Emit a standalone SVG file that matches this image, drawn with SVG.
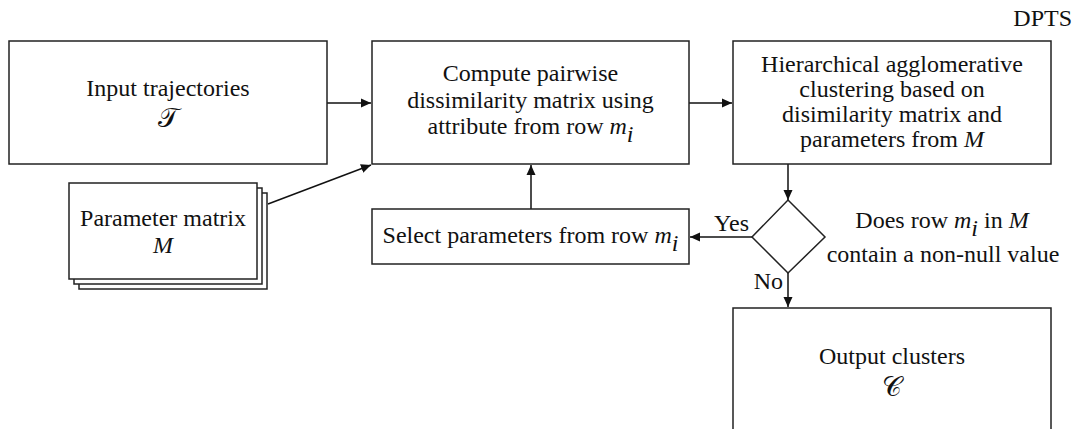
<svg xmlns="http://www.w3.org/2000/svg" width="1077" height="429" viewBox="0 0 1077 429">
  <style>
    .box { fill: #ffffff; stroke: #222222; stroke-width: 1.5; }
    .edge { fill: none; stroke: #111111; stroke-width: 1.5; }
    text { font-family: "Liberation Serif", "Times New Roman", serif; font-size: 24px; fill: #111111; }
    .c { text-anchor: middle; }
    .it { font-style: italic; }
    .script { font-family: "DejaVu Serif", "DejaVu Sans", "Liberation Serif", serif; font-size: 27px; }
  </style>
  <defs>
    <marker id="arrow" viewBox="0 0 10 10" refX="10" refY="5" markerWidth="10" markerHeight="10" markerUnits="userSpaceOnUse" orient="auto">
      <path d="M0,0.5 L10,5 L0,9.5 Z" fill="#111111"/>
    </marker>
  </defs>

  <rect width="1077" height="429" fill="#ffffff"/>

  <text x="1072" y="26" text-anchor="end">DPTS</text>

  <!-- connectors -->
  <g id="connectors">
    <line class="edge" x1="327" y1="103" x2="371" y2="103" marker-end="url(#arrow)"/>
    <line class="edge" x1="689" y1="103" x2="732" y2="103" marker-end="url(#arrow)"/>
    <line class="edge" x1="268" y1="204" x2="371" y2="165" marker-end="url(#arrow)"/>
    <line class="edge" x1="531" y1="209" x2="531" y2="165" marker-end="url(#arrow)"/>
    <line class="edge" x1="788" y1="164" x2="788" y2="200" marker-end="url(#arrow)"/>
    <line class="edge" x1="753" y1="237" x2="690" y2="237" marker-end="url(#arrow)"/>
    <line class="edge" x1="788" y1="273" x2="788" y2="307" marker-end="url(#arrow)"/>
    <text x="749" y="231" text-anchor="end">Yes</text>
    <text x="783" y="289" text-anchor="end">No</text>
  </g>

  <g id="input">
    <rect class="box" x="9" y="41" width="318" height="123"/>
    <text class="c" x="168" y="96">Input trajectories</text>
    <text class="c script" x="168" y="127">𝒯</text>
  </g>

  <g id="params">
    <rect class="box" x="79" y="193" width="188" height="96"/>
    <rect class="box" x="74" y="188" width="188" height="96"/>
    <rect class="box" x="69" y="183" width="188" height="96"/>
    <text class="c" x="163" y="226">Parameter matrix</text>
    <text class="c it" x="163" y="253">M</text>
  </g>

  <g id="dissimilarity">
    <rect class="box" x="372" y="41" width="317" height="123"/>
    <text class="c" x="530.5" y="81">Compute pairwise</text>
    <text class="c" x="530.5" y="107.5">dissimilarity matrix using</text>
    <text class="c" x="530.5" y="134">attribute from row <tspan class="it">m</tspan><tspan class="it" dy="8">i</tspan></text>
  </g>

  <g id="clustering">
    <rect class="box" x="733" y="41" width="318" height="123"/>
    <text class="c" x="892" y="71.5">Hierarchical agglomerative</text>
    <text class="c" x="892" y="96.5">clustering based on</text>
    <text class="c" x="892" y="121.5">disimilarity matrix and</text>
    <text class="c" x="892" y="146.5">parameters from <tspan class="it">M</tspan></text>
  </g>

  <g id="select">
    <rect class="box" x="372" y="209" width="317" height="55"/>
    <text class="c" x="530.5" y="243">Select parameters from row <tspan class="it">m</tspan><tspan class="it" dy="8">i</tspan></text>
  </g>

  <g id="decision">
    <polygon class="box" points="788,200 825,237 788,273 752,237"/>
    <text class="c" x="942" y="228">Does row <tspan class="it">m</tspan><tspan class="it" dy="8">i</tspan><tspan dy="-8"> in </tspan><tspan class="it">M</tspan></text>
    <text class="c" x="943" y="262">contain a non-null value</text>
  </g>

  <g id="output">
    <rect class="box" x="733" y="308" width="318" height="140"/>
    <text class="c" x="892" y="364">Output clusters</text>
    <text class="c script" x="892" y="396">𝒞</text>
  </g>
</svg>
